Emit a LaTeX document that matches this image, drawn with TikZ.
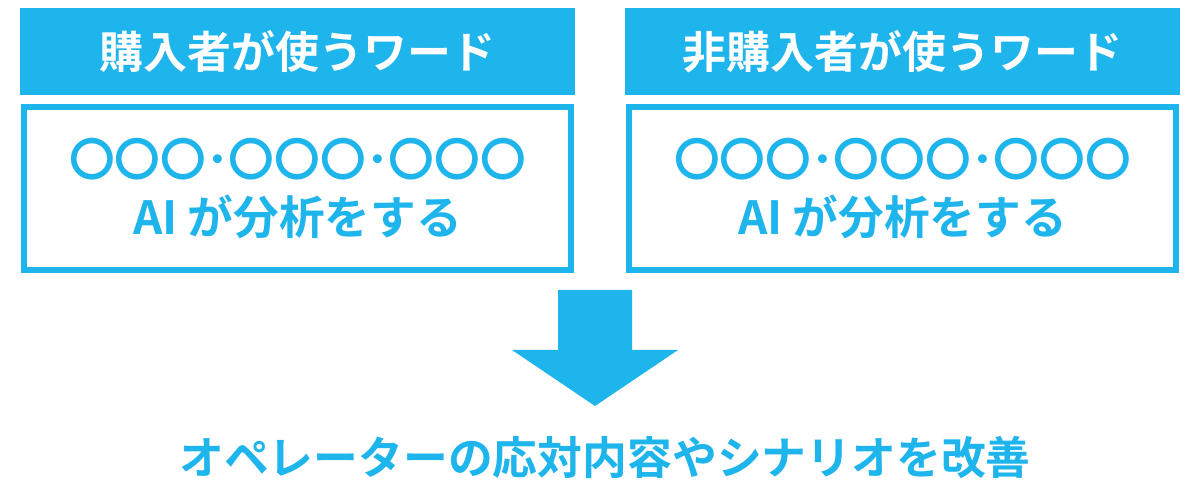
\documentclass[tikz,border=0pt]{standalone}
\usepackage{fontspec}
\newfontfamily\cjk{Noto Sans CJK JP Bold}
\usetikzlibrary{positioning}
\definecolor{skyblue}{HTML}{1EB4EC}

\begin{document}
\begin{tikzpicture}[x=0.02cm,y=-0.02cm,
    headbox/.style={fill=skyblue,text=white,minimum width=11.1cm,minimum height=1.74cm,inner sep=0pt,font=\cjk\fontsize{25}{30}\selectfont},
    bodybox/.style={draw=skyblue,line width=1.2mm,fill=white,text=skyblue,minimum width=10.96cm,minimum height=3.28cm,align=center,font=\cjk\fontsize{26}{33}\selectfont},
    downarrow/.style={fill=skyblue}]
  \useasboundingbox (0,0) rectangle (1200,492);

  % left column
  \node[headbox] (buyhead) at (297.5,51.5) {購入者が使うワード};
  \node[bodybox] (buybody) at (297.5,188.5) {〇〇〇･〇〇〇･〇〇〇\\AI が分析をする};

  % right column
  \node[headbox] (nonhead) at (902.5,51.5) {非購入者が使うワード};
  \node[bodybox] (nonbody) at (902.5,188.5) {〇〇〇･〇〇〇･〇〇〇\\AI が分析をする};

  % arrow
  \fill[downarrow] (558,290) -- (632,290) -- (632,350) -- (678,350)
    -- (595,406) -- (512,350) -- (558,350) -- cycle;

  \node[text=skyblue,font=\cjk\fontsize{25.5}{30}\selectfont] (result) at (605,458)
    {オペレーターの応対内容やシナリオを改善};
\end{tikzpicture}
\end{document}
